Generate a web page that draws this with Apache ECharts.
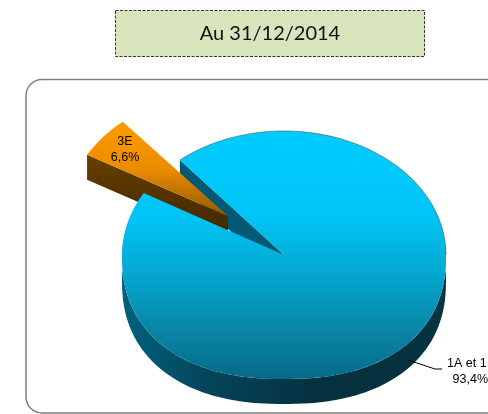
<!DOCTYPE html>
<html><head><meta charset="utf-8"><style>html,body{margin:0;padding:0;background:#fff}#c{width:488px;height:414px}</style>
<script src="https://cdn.jsdelivr.net/npm/echarts@6/dist/echarts.min.js"></script></head>
<body><div id="c"></div><script>
const categories = ['1A et 1', '3E'];
const shares = [93.4, 6.6];
const shareLabels = ['93,4%', '6,6%'];
const titleText = 'Au 31/12/2014';

// drawing settings
const cx = 284, cy = 255, rx = 162, ry = 124, depth = 25;
const nearBulge = 2 / 2.3;     // perspective: the near half of the disc is fuller than an ellipse
const gapStart = 130;          // param angle (deg, math ccw) where the exploded gap opens
const slicePerspective = 0.84; // foreshortening of the small slice and of its gap
const explode = [-56, -39];

const rad = d => d * Math.PI / 180;
function pt(a, ox, oy, dz) {
  const c = Math.cos(rad(a)), s = Math.sin(rad(a));
  if (s < 0) {
    return [ox + rx * Math.sign(c) * Math.pow(Math.abs(c), nearBulge),
            oy + ry * Math.pow(-s, nearBulge) + (dz || 0)];
  }
  return [ox + rx * c, oy - ry * s + (dz || 0)];
}
function arc(a0, a1, ox, oy, dz) {
  const pts = [], n = Math.max(2, Math.ceil(Math.abs(a1 - a0) / 2));
  for (let i = 0; i <= n; i++) pts.push(pt(a0 + (a1 - a0) * i / n, ox, oy, dz));
  return pts;
}
function vgrad(stops, y0, y1) {
  return { type: 'linear', x: 0, y: y0, x2: 0, y2: y1, global: true,
    colorStops: stops.map(s => ({ offset: s[0], color: s[1] })) };
}
const poly = (points, fill, z2) => ({ type: 'polygon', z2, shape: { points }, style: { fill } });
const labelFont = '12.5px "Liberation Sans"';

function renderItem(params, api) {
  const v = api.value(0);
  if (params.dataIndex === 0) {
    const gap = (100 - v) * 3.6 * slicePerspective;
    const a0 = gapStart + gap, a1 = gapStart + 360;
    const top = [[cx, cy]].concat(arc(a0, a1, cx, cy));
    const wallTop = arc(175, 365, cx, cy);
    const wall = wallTop.concat(wallTop.slice().reverse().map(p => [p[0], p[1] + depth]));
    const cutA = pt(a1, cx, cy);
    const cutWall = [cutA, [cutA[0], cutA[1] + depth], [cx, cy + depth], [cx, cy]];
    return { type: 'group', children: [
      { type: 'polygon', z2: 1, shape: { points: wall }, style: { fill: {
        type: 'linear', x: cx - rx, y: 0, x2: cx + rx, y2: 0, global: true, colorStops: [
          { offset: 0, color: '#00617e' }, { offset: 0.25, color: '#04465c' }, { offset: 0.6, color: '#05303f' }, { offset: 1, color: '#07343f' }] } } },
      poly(cutWall, '#005a75', 2),
      poly(top, vgrad([[0, '#00ccff'], [0.35, '#00c4f5'], [0.6, '#04a4cc'], [0.8, '#0a86a6'], [1, '#066a88']], cy - ry, cy + ry), 10),
      { type: 'polyline', z2: 11, shape: { points: arc(0, gapStart, cx, cy) }, style: { stroke: 'rgba(70,90,100,0.6)', lineWidth: 1, fill: 'none' } },
      { type: 'polyline', z2: 11, shape: { points: [[408, 360], [435, 369], [442, 369]] }, style: { stroke: '#000', lineWidth: 1, fill: 'none' } },
      { type: 'text', z2: 12, style: { text: categories[0], x: 447, y: 364, align: 'left', verticalAlign: 'middle', fill: '#000', font: labelFont } },
      { type: 'text', z2: 12, style: { text: shareLabels[0], x: 488, y: 380, align: 'right', verticalAlign: 'middle', fill: '#000', font: labelFont } }
    ] };
  }
  const span = v * 3.6 * slicePerspective;
  const a0 = gapStart + 0.5, a1 = a0 + span;
  const ox = cx + explode[0], oy = cy + explode[1];
  const rim = arc(a0, a1, ox, oy);
  const end = rim[rim.length - 1];
  const side = [[ox, oy], end, [end[0], end[1] + depth], [ox, oy + depth]];
  return { type: 'group', children: [
    { type: 'polygon', z2: 5, shape: { points: side }, style: { fill: vgrad([[0, '#6b4200'], [1, '#3f2500']], oy - 70, oy + depth) } },
    poly([[ox, oy]].concat(rim), vgrad([[0, '#ff9c00'], [0.5, '#ea8c00'], [1, '#8f5a00']], oy - ry * 0.76, oy), 6),
    { type: 'text', z2: 7, style: { text: categories[1] + '\n' + shareLabels[1], x: 125, y: 150, align: 'center', verticalAlign: 'middle', fill: '#000', font: labelFont, lineHeight: 16 } }
  ] };
}

const chart = echarts.init(document.getElementById('c'), null, { renderer: 'canvas' });
chart.setOption({
  animation: false,
  backgroundColor: '#fff',
  graphic: [
    { type: 'rect', z: 0, shape: { x: 26, y: 79.5, width: 520, height: 333.5, r: 16 }, style: { fill: '#fff', stroke: '#7f7f7f', lineWidth: 1.5 } },
    { type: 'rect', z: 0, shape: { x: 115.5, y: 10.5, width: 309, height: 46 }, style: { fill: '#d8e4bc', stroke: '#333', lineWidth: 1, lineDash: [3, 1.5] } },
    { type: 'text', z: 1, style: { text: titleText, x: 270, y: 33.5, align: 'center', verticalAlign: 'middle', fill: '#111', font: '20px Lato' } }
  ],
  xAxis: { show: false, type: 'category', data: categories },
  yAxis: { show: false, type: 'value' },
  grid: { left: 0, right: 0, top: 0, bottom: 0 },
  series: [{
    type: 'custom', coordinateSystem: 'none', renderItem, z: 5,
    data: shares.map(v => [v]), encode: { value: 0 }, silent: true
  }]
});
</script></body></html>
